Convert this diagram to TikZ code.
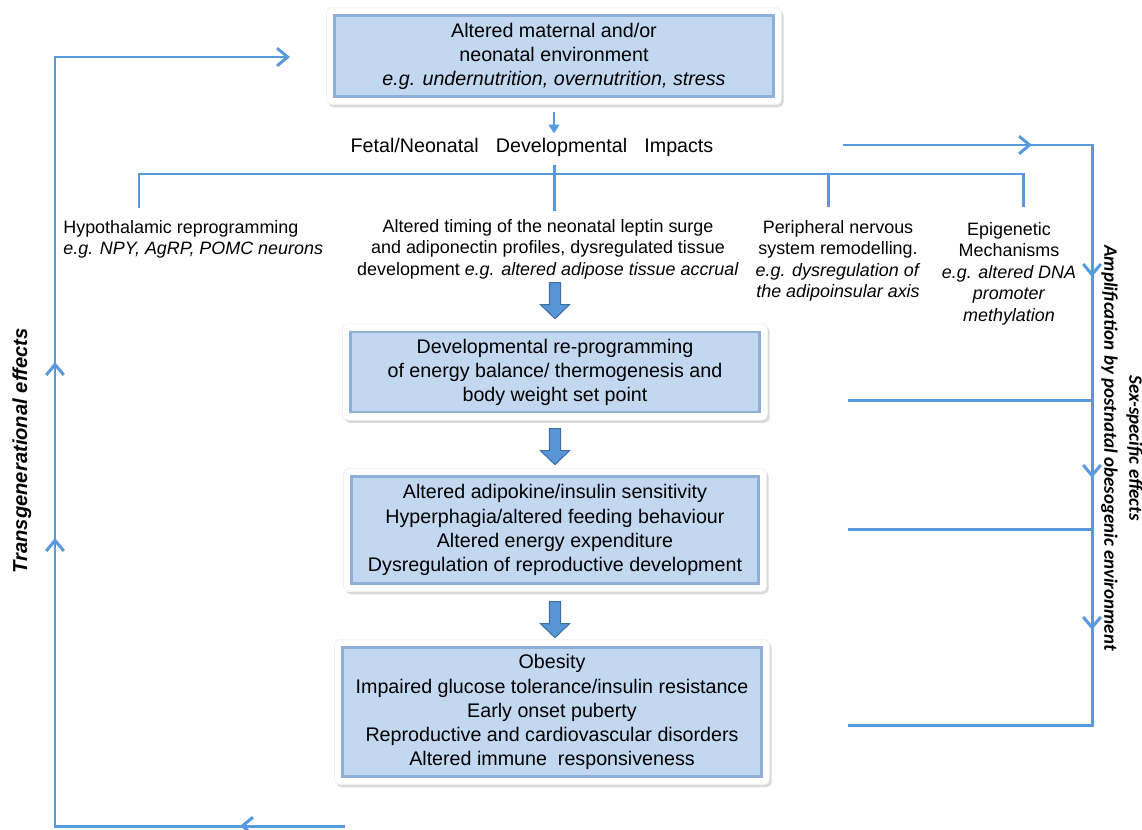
\documentclass[tikz,border=0pt]{standalone}
\usepackage{fontspec}
\setmainfont{Liberation Sans}
\newfontfamily\calibrifont{Carlito}
\usetikzlibrary{positioning, calc, fit, backgrounds, shadows, shapes.arrows, arrows.meta, decorations.markings}
\definecolor{boxblue}{RGB}{194,216,240}
\definecolor{boxedge}{RGB}{143,176,214}
\definecolor{linkblue}{RGB}{86,153,222}
\definecolor{arrowfill}{RGB}{88,150,214}
\definecolor{arrowedge}{RGB}{62,112,168}
\tikzstyle{stagebox} = [rectangle, draw=boxedge, line width=1.3pt, fill=boxblue, text centered, align=center, inner sep=0pt, font=\fontsize{11.2}{13.7}\selectfont]
\tikzstyle{frame} = [rectangle, rounded corners=3pt, fill=white, draw=black!6, inner sep=0.14cm, drop shadow={shadow xshift=1.2pt, shadow yshift=-1.5pt, opacity=0.3}]
\tikzstyle{impact} = [align=center, inner sep=0pt, anchor=north, font=\fontsize{10.2}{12.2}\selectfont]
\tikzstyle{link} = [draw=linkblue, line width=1.7pt]
\tikzstyle{blockarrow} = [single arrow, rotate=-90, fill=arrowfill, draw=arrowedge, line width=0.6pt, minimum height=0.72cm, minimum width=0.58cm, inner sep=0.1cm, single arrow head extend=0.18cm, single arrow tip angle=92]
\tikzset{>={Straight Barb[length=6pt,width=10pt]}}

\begin{document}
\begin{tikzpicture}[x=0.02cm, y=-0.02cm]
    \useasboundingbox (0,0) rectangle (1142,829);
    % main column
    \node (envbox) [stagebox, minimum width=8.78cm, minimum height=1.62cm] at (554,56) {Altered maternal and/or\\neonatal environment\\\textit{e.g. undernutrition, overnutrition, stress}};
    \node (impacts) [inner sep=0pt, font=\fontsize{11.2}{13.7}\selectfont] at (532,147) {Fetal/Neonatal\hspace{0.6em} Developmental\hspace{0.6em} Impacts};
    \node (hypo) [impact, anchor=north west, align=left] at (63,220) {Hypothalamic reprogramming\\\textit{e.g. NPY, AgRP, POMC neurons}};
    \node (tiss) [impact] at (548,219) {Altered timing of the neonatal leptin surge\\and adiponectin profiles, dysregulated tissue\\development \textit{e.g. altered adipose tissue accrual}};
    \node (periph) [impact] at (838,220) {Peripheral nervous\\system remodelling.\\\textit{e.g. dysregulation of}\\\textit{the adipoinsular axis}};
    \node (epi) [impact] at (1009,222) {Epigenetic\\Mechanisms\\\textit{e.g. altered DNA}\\\textit{promoter}\\\textit{methylation}};
    \node (progbox) [stagebox, minimum width=8.18cm, minimum height=1.6cm] at (555,372) {Developmental re-programming\\of energy balance/ thermogenesis and\\body weight set point};
    \node (sensbox) [stagebox, minimum width=8.14cm, minimum height=2.14cm] at (555,530) {Altered adipokine/insulin sensitivity\\Hyperphagia/altered feeding behaviour\\Altered energy expenditure\\Dysregulation of reproductive development};
    \node (disbox) [stagebox, minimum width=8.38cm, minimum height=2.58cm] at (552,712) {Obesity\\Impaired glucose tolerance/insulin resistance\\Early onset puberty\\Reproductive and cardiovascular disorders\\Altered immune\ \ responsiveness};
    \node (arrTiss) [blockarrow] at (555,298) {};
    \node (arrProg) [blockarrow] at (555,444) {};
    \node (arrSens) [blockarrow] at (555,617) {};
    % white frames behind the boxes
    \begin{scope}[on background layer]
        \foreach \b in {envbox, progbox, sensbox, disbox}
            \node [frame, fit=(\b)] {};
    \end{scope}
    % side labels
    \node (transtext) [rotate=90, font=\bfseries\itshape\fontsize{11.5}{14}\selectfont] at (22,451) {Transgenerational effects};
    \node (sextext) [rotate=-90, align=center, font=\calibrifont\bfseries\itshape\fontsize{10.8}{14.2}\selectfont] at (1122,448) {Sex-specific effects\\Amplification by postnatal obesogenic environment};
    % connectors
    \coordinate (busW) at (139,174);
    \coordinate (busP) at (828,174);
    \coordinate (busE) at (1023,174);
    \draw [linkblue, line width=1.1pt, -{Triangle[length=5pt,width=6pt]}] ([yshift=-0.28cm]envbox.south) -- ([yshift=0.08cm]impacts.north -| envbox.south);
    \draw [link] ([yshift=-0.16cm]impacts.south -| envbox.south) -- ([yshift=0.16cm]tiss.north -| envbox.south);
    \draw [link] ([yshift=0.24cm]hypo.north -| busW) -- (busW) -- (busE) -- ([yshift=0.3cm]epi.north -| busE);
    \draw [link] (busP) -- ([yshift=0.26cm]periph.north -| busP);
    % transgenerational loop
    \coordinate (transStart) at (345,826);
    \coordinate (loopNW) at (55,57);
    \coordinate (transEnd) at (290,57);
    \draw [link, ->, postaction={decorate}, decoration={markings,
        mark=at position 2.1cm with {\arrow{>}},
        mark=at position 11.56cm with {\arrow{>}},
        mark=at position 15.08cm with {\arrow{>}}}]
        (transStart) -| (loopNW) -- (transEnd);
    % postnatal amplification loop
    \coordinate (ampStart) at (843,145);
    \coordinate (loopNE) at (1092,145);
    \coordinate (ampEnd) at (848,725);
    \coordinate (fbProg) at (848,400);
    \coordinate (fbSens) at (848,529);
    \draw [link, postaction={decorate}, decoration={markings,
        mark=at position 3.78cm with {\arrow{>}},
        mark=at position 7.62cm with {\arrow{>}},
        mark=at position 11.64cm with {\arrow{>}},
        mark=at position 14.68cm with {\arrow{>}}}]
        (ampStart) -- (loopNE) |- (ampEnd);
    \draw [link] (fbProg) -- (fbProg -| loopNE);
    \draw [link] (fbSens) -- (fbSens -| loopNE);
\end{tikzpicture}
\end{document}
